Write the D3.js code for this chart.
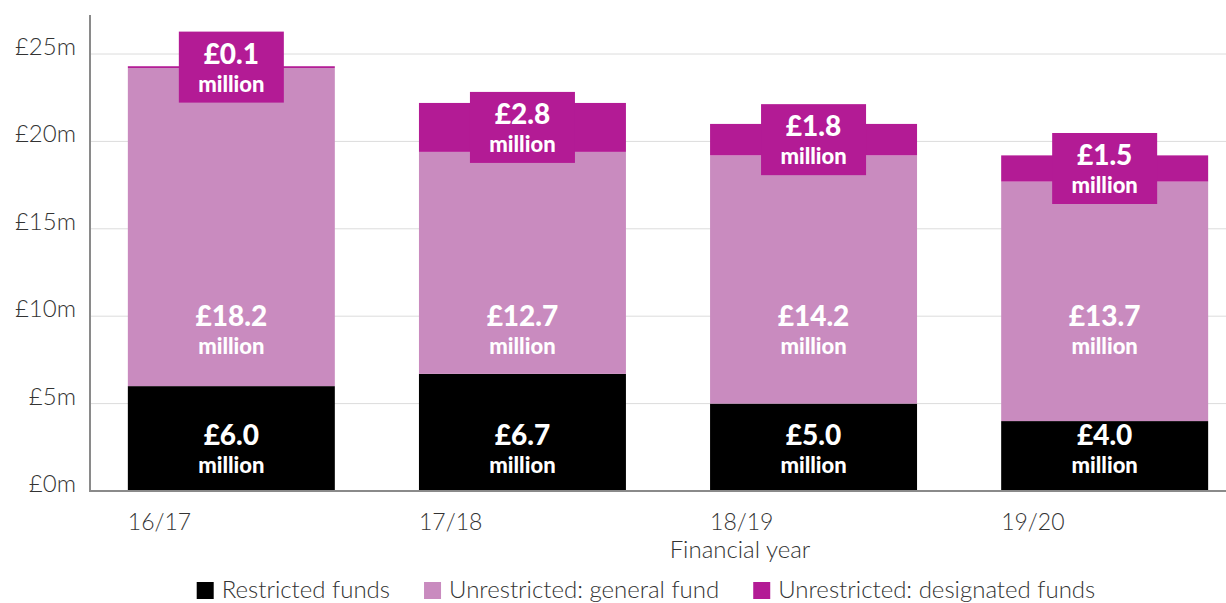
<!DOCTYPE html>
<html>
<head>
<meta charset="utf-8">
<script src="https://cdn.jsdelivr.net/npm/d3@7"></script>
<style>
  html, body { margin: 0; padding: 0; background: #fff; }
  svg { display: block; }
  .tick-label, .cat-label, .axis-title, .legend-text {
    font-family: Lato, "Open Sans", sans-serif; font-weight: 300; fill: #333;
  }
  .val { font-family: Lato, "Open Sans", sans-serif; font-weight: 900; fill: #fff; }
</style>
</head>
<body>
<svg id="chart" width="1226" height="603"></svg>
<script>
// Fund balances by financial year (£ million)
const years = ["16/17", "17/18", "18/19", "19/20"];
const restricted = [6.0, 6.7, 5.0, 4.0];
const generalFund = [18.2, 12.7, 14.2, 13.7];
const designated = [0.1, 2.8, 1.8, 1.5];
const seriesKeys = ["restricted", "general", "designated"];
const seriesNames = ["Restricted funds", "Unrestricted: general fund", "Unrestricted: designated funds"];
const yTicks = [0, 5, 10, 15, 20, 25];
const xTitle = "Financial year";

const colors = { restricted: "#000000", general: "#c98bbf", designated: "#b31b95" };

const rows = years.map((yr, i) => ({
  year: yr, restricted: restricted[i], general: generalFund[i], designated: designated[i]
}));

const svg = d3.select("#chart");
const W = 1226;
const axisX = 90, baseY = 491;

const x = d3.scaleBand().domain(years).range([axisX, 1246]).paddingInner(0.289).paddingOuter(0.13);
const y = d3.scaleLinear().domain([0, 25]).range([baseY, 54]);

// gridlines
svg.append("g").selectAll("line").data(yTicks.filter(t => t > 0)).join("line")
  .attr("x1", axisX).attr("x2", W)
  .attr("y1", d => y(d)).attr("y2", d => y(d))
  .attr("stroke", "#dcdcdc").attr("stroke-width", 1);

// y tick labels
svg.append("g").selectAll("text").data(yTicks).join("text")
  .attr("class", "tick-label")
  .attr("x", 76).attr("y", d => y(d) + 1)
  .attr("text-anchor", "end").attr("font-size", 24)
  .text(d => "£" + d + "m");

// stacked bars
const stacked = d3.stack().keys(seriesKeys)(rows);
svg.append("g").selectAll("g").data(stacked).join("g")
  .attr("fill", d => colors[d.key])
  .selectAll("rect").data(d => d).join("rect")
  .attr("x", d => x(d.data.year))
  .attr("width", x.bandwidth())
  .attr("y", d => y(d[1]))
  .attr("height", d => y(d[0]) - y(d[1]));

// axes lines
svg.append("line").attr("x1", axisX).attr("x2", axisX).attr("y1", 15).attr("y2", baseY + 1)
  .attr("stroke", "#8a8a8a").attr("stroke-width", 2);
svg.append("line").attr("x1", axisX).attr("x2", W).attr("y1", baseY).attr("y2", baseY)
  .attr("stroke", "#8a8a8a").attr("stroke-width", 2);

// two-line value label: amount over "million"
function valueLabel(g, cx, yTop, value) {
  g.append("text").attr("class", "val").attr("text-anchor", "middle")
    .attr("x", cx).attr("y", yTop - 2).attr("font-size", 28)
    .text("£" + value.toFixed(1));
  g.append("text").attr("class", "val").attr("text-anchor", "middle")
    .attr("x", cx).attr("y", yTop + 26).attr("font-size", 22)
    .text("million");
}

const labels = svg.append("g");
rows.forEach(r => {
  const cx = x(r.year) + x.bandwidth() / 2;
  // restricted and general fund labels sit at a common height within the bars
  valueLabel(labels, cx, y(2.5), r.restricted);
  valueLabel(labels, cx, y(9.35), r.general);
  // designated funds: tab box centred on the segment
  const top = r.restricted + r.general;
  const mid = (y(top) + y(top + r.designated)) / 2;
  const boxW = 105, boxH = 71;
  labels.append("rect").attr("x", cx - boxW / 2).attr("y", mid - boxH / 2)
    .attr("width", boxW).attr("height", boxH).attr("fill", colors.designated);
  valueLabel(labels, cx, mid - boxH / 2 + 34, r.designated);
});

// category labels
svg.append("g").selectAll("text").data(years).join("text")
  .attr("class", "cat-label")
  .attr("x", d => x(d)).attr("y", 530).attr("font-size", 23)
  .text(d => d);

svg.append("text").attr("class", "axis-title")
  .attr("x", 740).attr("y", 558).attr("text-anchor", "middle").attr("font-size", 24)
  .text(xTitle);

// legend
const legend = svg.append("g");
const items = legend.selectAll("g").data(seriesKeys).join("g");
items.append("rect").attr("width", 17).attr("height", 17).attr("y", 582)
  .attr("fill", d => colors[d]);
items.append("text").attr("class", "legend-text").attr("x", 25).attr("y", 598)
  .attr("font-size", 24).text((d, i) => seriesNames[i]);
const widths = [];
items.each(function () {
  const tw = d3.select(this).select("text").node().getComputedTextLength();
  widths.push(25 + tw);
});
const gap = 34;
const total = d3.sum(widths) + gap * (widths.length - 1);
let cursor = 646 - total / 2;
items.attr("transform", (d, i) => {
  const tx = cursor;
  cursor += widths[i] + gap;
  return `translate(${tx},0)`;
});
</script>
</body>
</html>
